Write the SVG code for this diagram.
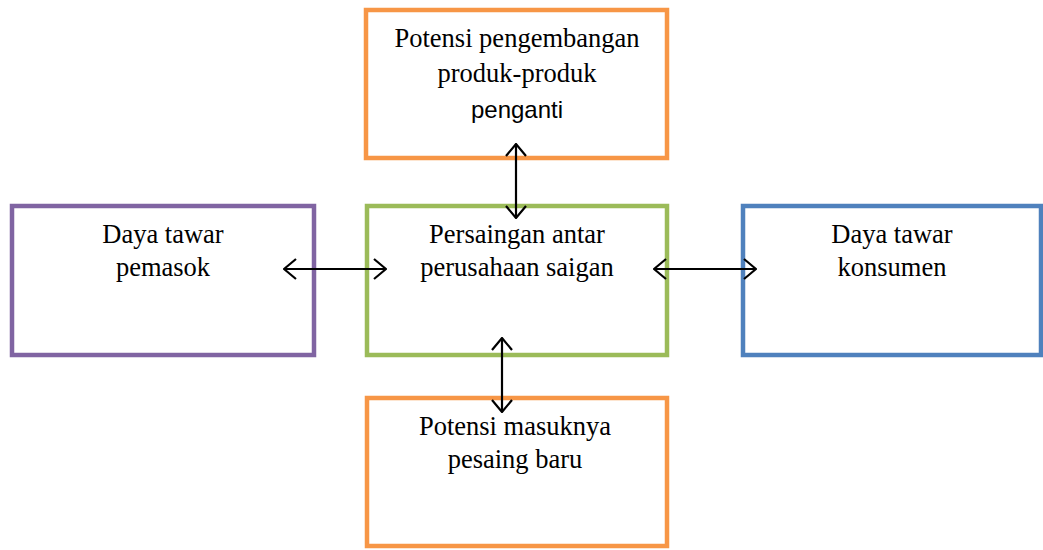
<svg xmlns="http://www.w3.org/2000/svg" width="1043" height="550" viewBox="0 0 1043 550">
<defs>
<style>
.box{fill:#fff;stroke-width:4.5}
.t{font-family:"Liberation Serif","Times New Roman",serif;font-size:26.5px;fill:#000;text-anchor:middle}
.s{font-family:"Liberation Sans",Arial,sans-serif;font-size:24px;fill:#000;text-anchor:middle}
.c{stroke:#000;stroke-width:2.2;fill:none}
</style>
<marker id="ah" viewBox="0 0 14 22" refX="13" refY="11" markerWidth="14" markerHeight="22" markerUnits="userSpaceOnUse" orient="auto-start-reverse">
<path d="M1,1 L13,11 L1,21" fill="none" stroke="#000" stroke-width="2.2"/>
</marker>
</defs>
<rect width="1043" height="550" fill="#fff"/>
<g id="node-top">
<rect class="box" x="366" y="10" width="301" height="148" stroke="#F79646"/>
<text class="t" x="517" y="47">Potensi pengembangan</text>
<text class="t" x="517" y="82">produk-produk</text>
<text class="s" x="517" y="118">penganti</text>
</g>
<g id="node-center">
<rect class="box" x="367" y="206" width="300" height="149" stroke="#9BBB59"/>
<text class="t" x="517" y="243">Persaingan antar</text>
<text class="t" x="517" y="276">perusahaan saigan</text>
</g>
<g id="node-left">
<rect class="box" x="12" y="206" width="302" height="149" stroke="#8064A2"/>
<text class="t" x="163" y="243">Daya tawar</text>
<text class="t" x="163" y="276">pemasok</text>
</g>
<g id="node-right">
<rect class="box" x="743" y="206" width="298" height="149" stroke="#4F81BD"/>
<text class="t" x="892" y="243">Daya tawar</text>
<text class="t" x="892" y="276">konsumen</text>
</g>
<g id="node-bottom">
<rect class="box" x="367" y="398" width="300" height="148" stroke="#F79646"/>
<text class="t" x="515" y="435">Potensi masuknya</text>
<text class="t" x="515" y="468">pesaing baru</text>
</g>
<g id="connectors">
<line class="c" x1="516" y1="144" x2="516" y2="218" marker-start="url(#ah)" marker-end="url(#ah)"/>
<line class="c" x1="284" y1="269" x2="386" y2="269" marker-start="url(#ah)" marker-end="url(#ah)"/>
<line class="c" x1="654" y1="269" x2="756" y2="269" marker-start="url(#ah)" marker-end="url(#ah)"/>
<line class="c" x1="502" y1="338" x2="502" y2="412" marker-start="url(#ah)" marker-end="url(#ah)"/>
</g>
</svg>
